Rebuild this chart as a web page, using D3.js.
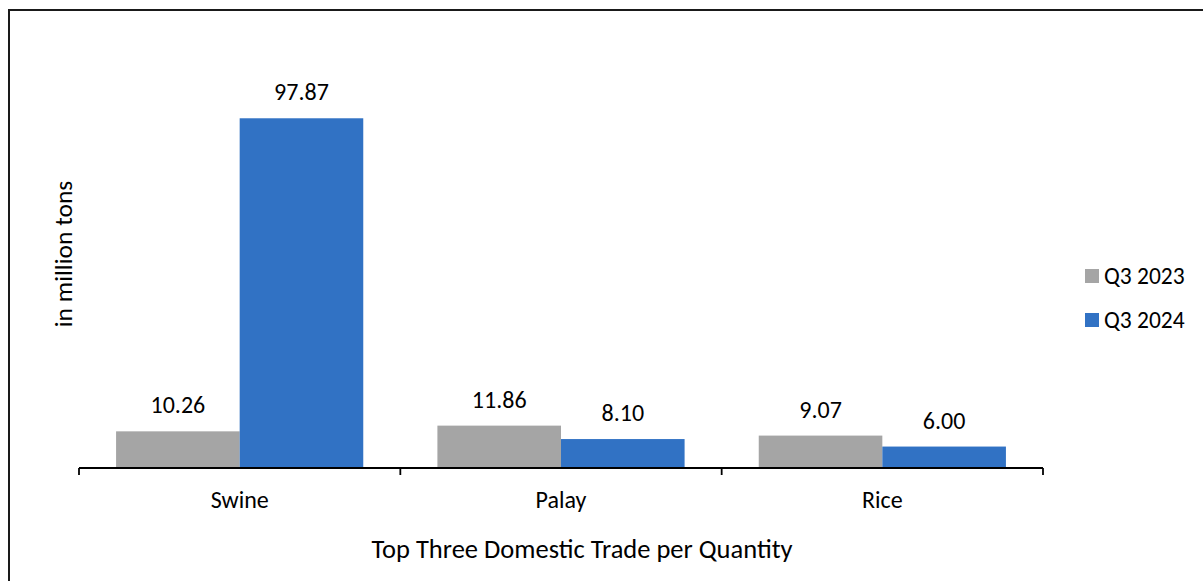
<!DOCTYPE html>
<html>
<head>
<meta charset="utf-8">
<script src="https://cdn.jsdelivr.net/npm/d3@7"></script>
<style>
  html, body { margin: 0; padding: 0; background: #fff; }
  svg { display: block; }
  text { font-family: Calibri, Carlito, Lato, sans-serif; fill: #000; }
</style>
</head>
<body>
<svg id="chart" width="1203" height="581"></svg>
<script>
const categories = ["Swine", "Palay", "Rice"];
const seriesNames = ["Q3 2023", "Q3 2024"];
const q3_2023 = [10.26, 11.86, 9.07];
const q3_2024 = [97.87, 8.10, 6.00];
const colors = ["#A5A5A5", "#3172C4"];
const xTitle = "Top Three Domestic Trade per Quantity";
const yTitle = "in million tons";

const svg = d3.select("#chart");

// outer border (right/bottom edges fall outside the picture)
svg.append("rect")
  .attr("x", 9).attr("y", 10)
  .attr("width", 1210).attr("height", 600)
  .attr("fill", "none").attr("stroke", "#1a1a1a").attr("stroke-width", 2);

const x0 = d3.scaleBand().domain(categories).range([79, 1043]).paddingInner(0).paddingOuter(0);
const x1 = d3.scaleBand().domain(seriesNames).range([0, x0.bandwidth()]).paddingInner(0).paddingOuter(0.3);
const y = d3.scaleLinear().domain([0, 120]).range([468, 39.2]);

const rows = categories.map((c, i) => ({ cat: c, vals: [q3_2023[i], q3_2024[i]] }));

const groups = svg.append("g").selectAll("g").data(rows).join("g")
  .attr("transform", d => `translate(${x0(d.cat)},0)`);

groups.selectAll("rect").data(d => d.vals.map((v, j) => ({ v, s: seriesNames[j], j })))
  .join("rect")
  .attr("x", d => x1(d.s))
  .attr("y", d => y(d.v))
  .attr("width", x1.bandwidth())
  .attr("height", d => y(0) - y(d.v))
  .attr("fill", d => colors[d.j]);

groups.selectAll("text.lbl").data(d => d.vals.map((v, j) => ({ v, s: seriesNames[j], j })))
  .join("text")
  .attr("class", "lbl")
  .attr("x", d => x1(d.s) + x1.bandwidth() / 2)
  .attr("y", d => y(d.v) - 18)
  .attr("text-anchor", "middle")
  .style("font-size", "24px")
  .text(d => d.v.toFixed(2));

// x axis
const axis = svg.append("g").attr("transform", `translate(0,${y(0)})`)
  .call(d3.axisBottom(x0).tickSize(0).tickPadding(0));
axis.select(".domain").remove();
axis.selectAll("text")
  .attr("dy", null).attr("y", 39.5)
  .style("font-size", "24px")
  .style("font-family", "Calibri, Carlito, Lato, sans-serif")
  .attr("fill", "#000");

svg.append("line")
  .attr("x1", x0.range()[0]).attr("x2", x0.range()[1])
  .attr("y1", y(0)).attr("y2", y(0))
  .attr("stroke", "#000").attr("stroke-width", 1.8);

const boundaries = categories.map(c => x0(c)).concat([x0.range()[1]]);
svg.append("g").selectAll("line").data(boundaries).join("line")
  .attr("x1", d => d).attr("x2", d => d)
  .attr("y1", y(0)).attr("y2", y(0) + 7)
  .attr("stroke", "#000").attr("stroke-width", 1.8);

// axis titles
svg.append("text")
  .attr("x", 582).attr("y", 558)
  .attr("text-anchor", "middle")
  .style("font-size", "26.5px")
  .text(xTitle);

svg.append("text")
  .attr("transform", "translate(72,254) rotate(-90)")
  .attr("text-anchor", "middle")
  .style("font-size", "25.5px")
  .text(yTitle);

// legend
const legend = svg.append("g").selectAll("g").data(seriesNames).join("g")
  .attr("transform", (d, i) => `translate(1085,${269 + i * 44})`);
legend.append("rect").attr("width", 14).attr("height", 14).attr("fill", (d, i) => colors[i]);
legend.append("text").attr("x", 19).attr("y", 14.5)
  .style("font-size", "23.5px").text(d => d);
</script>
</body>
</html>
